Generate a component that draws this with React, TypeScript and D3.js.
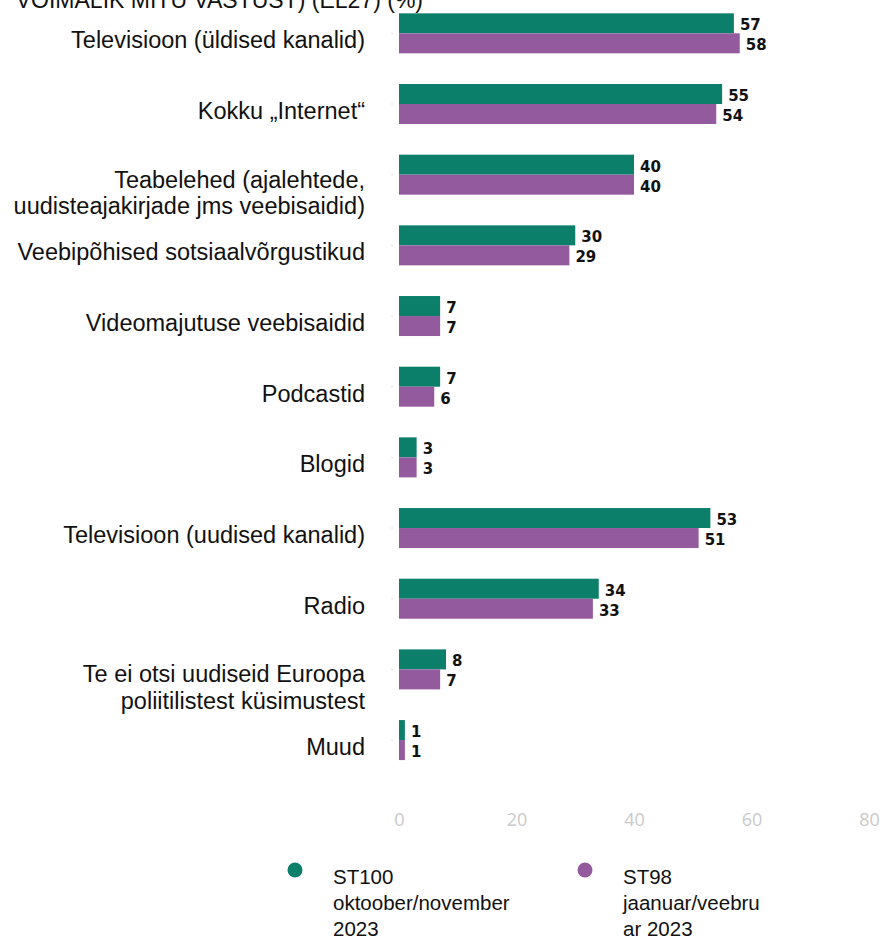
import React, { useRef, useEffect } from 'react';
import * as d3 from 'd3';

// categories top to bottom ("\n" = line break in the label)
const categories = [
  'Televisioon (üldised kanalid)',
  'Kokku „Internet“',
  'Teabelehed (ajalehtede,\nuudisteajakirjade jms veebisaidid)',
  'Veebipõhised sotsiaalvõrgustikud',
  'Videomajutuse veebisaidid',
  'Podcastid',
  'Blogid',
  'Televisioon (uudised kanalid)',
  'Radio',
  'Te ei otsi uudiseid Euroopa\npoliitilistest küsimustest',
  'Muud',
];

const st100 = [57, 55, 40, 30, 7, 7, 3, 53, 34, 8, 1];
const st98 = [58, 54, 40, 29, 7, 6, 3, 51, 33, 7, 1];

const xTicks = [0, 20, 40, 60, 80];

const seriesNames = ['ST100', 'ST98'];
const legendLabels = [
  ['ST100', 'oktoober/november', '2023'],
  ['ST98', 'jaanuar/veebru', 'ar 2023'],
];

const titleText = 'VÕIMALIK MITU VASTUST) (EL27) (%)';

const colors = ['#0b7f6a', '#945a9e'];

function Chart() {
  const canvas = useRef<HTMLDivElement>(null);

  useEffect(() => {
    const width = 885;
    const height = 942;

    d3.select(canvas.current).select('svg').remove();
    const svg = d3
      .select(canvas.current)
      .append('svg')
      .attr('width', width)
      .attr('height', height)
      .style('display', 'block');

    const labelFont = '"Liberation Sans", Arial, sans-serif';

    // title line, cut by the top edge like in the source image
    svg
      .append('text')
      .attr('x', 423)
      .attr('y', 8)
      .attr('text-anchor', 'end')
      .style('font-family', labelFont)
      .style('font-size', '23px')
      .attr('fill', '#111')
      .text(titleText);

    const x = d3.scaleLinear().domain([0, 80]).range([399, 869]);
    const y = d3
      .scaleBand<number>()
      .domain(d3.range(categories.length))
      .range([-2, 775.4])
      .paddingInner(0.434)
      .paddingOuter(0.217);
    const sub = d3
      .scaleBand<string>()
      .domain(seriesNames)
      .range([0, y.bandwidth()]);

    const data = categories.map((c, i) => ({ c, i, vals: [st100[i], st98[i]] }));

    // small faint ticks on the left
    svg
      .append('g')
      .selectAll('line')
      .data(data)
      .enter()
      .append('line')
      .attr('x1', 391)
      .attr('x2', 393)
      .attr('y1', (d) => y(d.i)! + y.bandwidth() / 2)
      .attr('y2', (d) => y(d.i)! + y.bandwidth() / 2)
      .attr('stroke', '#ddd');

    // category labels
    const labels = svg
      .append('g')
      .selectAll('text')
      .data(data)
      .enter()
      .append('text')
      .attr('text-anchor', 'end')
      .style('font-family', labelFont)
      .style('font-size', '23.5px')
      .attr('fill', '#111')
      .attr('y', (d) => y(d.i)! + y.bandwidth() / 2 + (d.c.includes('\n') ? 13 : 15));
    labels
      .selectAll('tspan')
      .data((d) => d.c.split('\n'))
      .enter()
      .append('tspan')
      .attr('x', 365)
      .attr('dy', (d, j) => (j === 0 ? 0 : 26.5))
      .text((d) => d);

    // bars
    const groups = svg
      .append('g')
      .selectAll('g')
      .data(data)
      .enter()
      .append('g')
      .attr('transform', (d) => `translate(0,${y(d.i)})`);

    groups
      .selectAll('rect')
      .data((d) => d.vals.map((v, k) => ({ v, k })))
      .enter()
      .append('rect')
      .attr('x', x(0))
      .attr('y', (d) => sub(seriesNames[d.k])!)
      .attr('width', (d) => x(d.v) - x(0))
      .attr('height', sub.bandwidth())
      .attr('fill', (d) => colors[d.k]);

    groups
      .selectAll('text')
      .data((d) => d.vals.map((v, k) => ({ v, k })))
      .enter()
      .append('text')
      .attr('x', (d) => x(d.v) + 6)
      .attr('y', (d) => sub(seriesNames[d.k])! + sub.bandwidth() / 2 + 2)
      .attr('dominant-baseline', 'central')
      .style('font-family', '"DejaVu Sans", Verdana, sans-serif')
      .style('font-weight', 'bold')
      .style('font-size', '15px')
      .attr('fill', '#111')
      .text((d) => d.v);

    // x axis, only light labels
    const axis = svg
      .append('g')
      .attr('transform', 'translate(0,826)')
      .call(d3.axisBottom(x).tickValues(xTicks).tickSize(0).tickPadding(0));
    axis.select('.domain').remove();
    axis
      .selectAll('text')
      .attr('dy', 0)
      .style('font-family', '"Open Sans", sans-serif')
      .style('font-size', '18px')
      .attr('fill', '#c9c9c9');

    // legend
    const legendX = [295, 585];
    const legend = svg
      .append('g')
      .selectAll('g')
      .data(legendLabels)
      .enter()
      .append('g')
      .attr('transform', (d, i) => `translate(${legendX[i]},870)`);
    legend
      .append('circle')
      .attr('r', 7.5)
      .attr('fill', (d, i) => colors[i]);
    legend
      .append('text')
      .attr('y', 14)
      .style('font-family', labelFont)
      .style('font-size', '20.5px')
      .attr('fill', '#111')
      .selectAll('tspan')
      .data((d) => d)
      .enter()
      .append('tspan')
      .attr('x', 38)
      .attr('dy', (d, j) => (j === 0 ? 0 : 26))
      .text((d) => d);
  }, []);

  return <div ref={canvas}></div>;
}

export default function App() {
  return (
    <div style={{ position: 'absolute', left: 0, top: 0, background: '#fff' }}>
      <Chart />
    </div>
  );
}
